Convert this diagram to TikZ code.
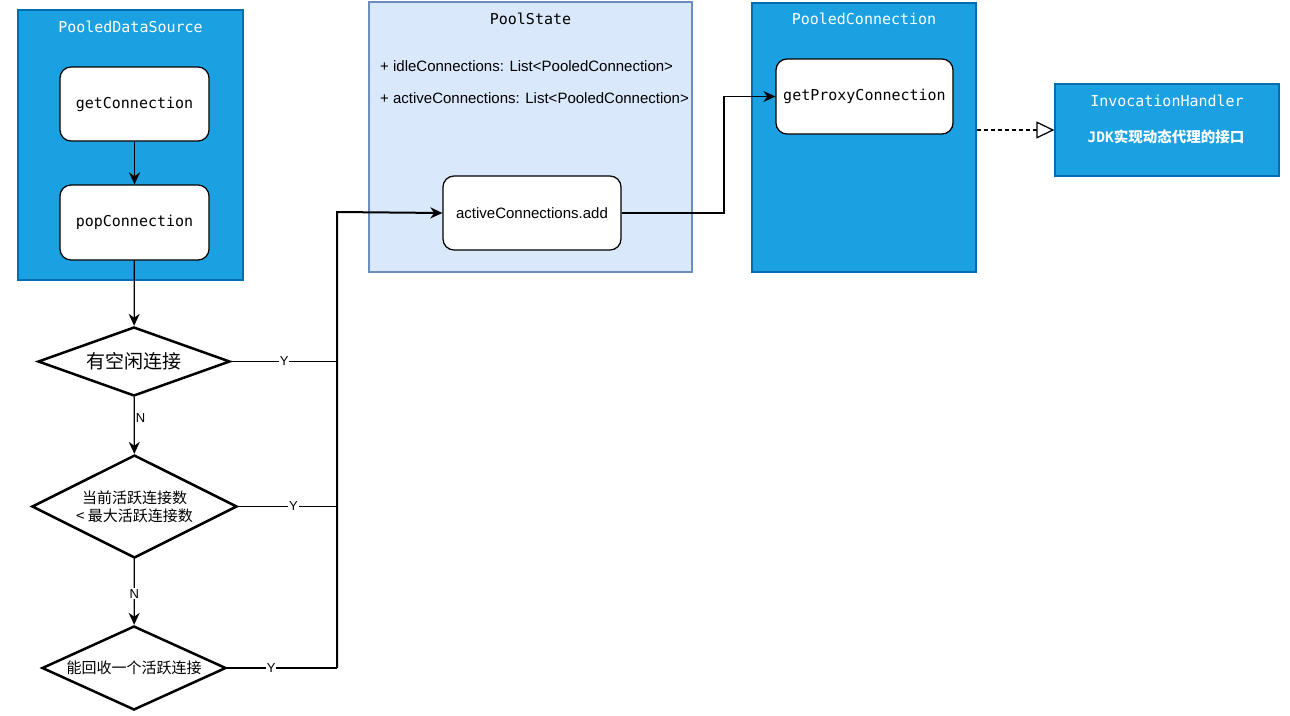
\documentclass[tikz,border=0pt]{standalone}
\usepackage{fontspec}
\setmainfont{Liberation Sans}
\setmonofont{DejaVu Sans Mono}
\newfontfamily\cjk{Noto Sans CJK SC}
\usetikzlibrary{positioning,arrows.meta,shapes.geometric,backgrounds}
\definecolor{dsblue}{HTML}{1BA1E2}
\definecolor{dsline}{HTML}{006EAF}
\definecolor{psfill}{HTML}{DAE8FC}
\definecolor{psline}{HTML}{6C8EBF}

\begin{document}
\begin{tikzpicture}[x=1pt,y=-1pt, every node/.style={font=\fontsize{15}{18}\selectfont},
  cls/.style={draw=dsline, fill=dsblue, line width=1.25pt},
  ttl/.style={font=\ttfamily\fontsize{15}{18}\selectfont, text=white, inner sep=0pt},
  mth/.style={draw=black, fill=white, line width=1.25pt, rounded corners=11pt,
              minimum width=149pt, minimum height=74pt, font=\ttfamily\fontsize{15}{18}\selectfont},
  attr/.style={anchor=west, inner sep=0pt, font=\fontsize{15}{18}\selectfont},
  dec/.style={draw=black, fill=white, diamond, line width=2.5pt, inner sep=0pt, align=center,
              font=\cjk\fontsize{15}{18}\selectfont},
  yn/.style={fill=white, inner sep=1pt, font=\fontsize{13}{15}\selectfont},
  conn/.style={draw=black, line width=1.25pt, -{Stealth[length=12pt,width=11pt]}},
  trunk/.style={conn, line width=2pt},
]
  \useasboundingbox (0,0) rectangle (1290,715);

  % PooledDataSource
  \node[cls, minimum width=225pt, minimum height=270pt] (ds) at (130.5,145) {};
  \node[ttl] (dsT) at (130.5,27) {PooledDataSource};
  \node[mth] (getc) at (134.5,104) {getConnection};
  \node[mth, minimum height=75pt] (popc) at (134.5,222.5) {popConnection};
  \draw[conn, line width=1.8pt] (getc) -- (popc);

  % decisions
  \node[dec, aspect=2.78, minimum width=192pt, minimum height=69pt,
        font=\cjk\fontsize{19}{22}\selectfont] (q1) at (134,361.5) {有空闲连接};
  \node[dec, aspect=2, minimum width=205pt, minimum height=103pt] (q2) at (134.5,506.5)
    {当前活跃连接数\\< 最大活跃连接数};
  \node[dec, aspect=2.2, minimum width=184pt, minimum height=84pt] (q3) at (134,668)
    {能回收一个活跃连接};
  \draw[conn] (popc) -- (q1);
  \draw[conn] (q1) -- node[yn, right, fill=none, pos=.37] {N} (q2);
  \draw[conn] (q2) -- node[yn, pos=.53] {N} (q3);

  % PoolState
  \node[draw=psline, fill=psfill, line width=1.25pt, minimum width=323pt,
        minimum height=270pt] (ps) at (530.5,137) {};
  \node[ttl, text=black] (psT) at (530.5,19) {PoolState};
  \node[attr] (idle) at (380,66) {+ idleConnections: List<PooledConnection>};
  \node[attr] (actv) at (380,98) {+ activeConnections: List<PooledConnection>};
  \node[mth, minimum width=178pt, font=\fontsize{15}{18}\selectfont] (addc) at (532,213)
    {activeConnections.add};

  % Y branches join and go to activeConnections.add
  \coordinate (jn) at (337,212);
  \draw[conn, -] (q1.east) -- node[yn, pos=.5] {Y} (q1.east -| jn);
  \draw[conn, -] (q2.east) -- node[yn, pos=.56] {Y} (q2.east -| jn);
  \draw[conn, -] (q3.east) -- node[yn, pos=.4] {Y} (q3.east -| jn);
  \draw[trunk] (q3.east -| jn) -- (jn) -- (addc.west);

  % PooledConnection
  \node[cls, minimum width=224pt, minimum height=269pt] (pc) at (864,137.5) {};
  \node[ttl] (pcT) at (864,19) {PooledConnection};
  \node[mth, minimum width=177pt, minimum height=75pt] (proxy) at (864.5,96.5)
    {getProxyConnection};
  \coordinate (bend) at (724,0);
  \draw[conn] (addc.east) -- (addc.east -| bend) |- (proxy.west);

  % InvocationHandler
  \node[cls, minimum width=224pt, minimum height=92pt] (ih) at (1167,130) {};
  \node[ttl] (ihT) at (1167,101) {InvocationHandler};
  \node[text=white, inner sep=0pt, font=\bfseries\fontsize{14.5}{17}\selectfont] (ihD) at (1166,137)
    {{\ttfamily JDK}{\cjk 实现动态代理的接口}};
  \draw[conn, dash pattern=on 4pt off 3pt,
        -{Triangle[open, fill=white, length=18pt, width=17pt]}] (pc.east |- ih.west) -- (ih.west);
\end{tikzpicture}
\end{document}
